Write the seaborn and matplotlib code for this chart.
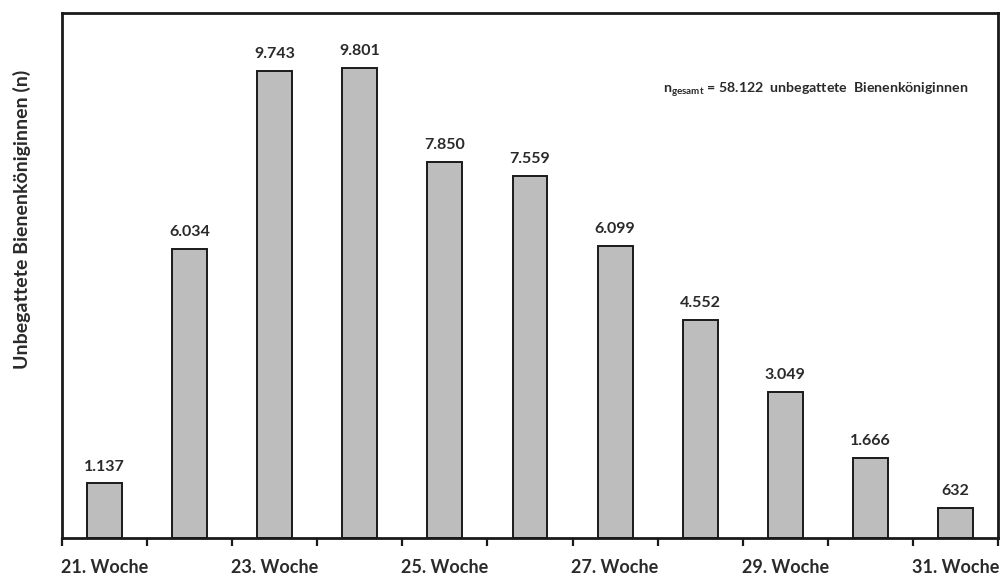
import matplotlib
matplotlib.use("Agg")
import matplotlib.pyplot as plt
import seaborn as sns
import pandas as pd
import numpy as np

weeks = [f"{w}. Woche" for w in range(21, 32)]
queens = [1137, 6034, 9743, 9801, 7850, 7559, 6099, 4552, 3049, 1666, 632]
total_label = "58.122"

sns.set_theme(style="white")
plt.rcParams["font.family"] = ["Lato", "DejaVu Sans"]

df = pd.DataFrame({"Woche": weeks, "Anzahl": queens})

fig = plt.figure(figsize=(10.04, 5.82), dpi=100)
ax = fig.add_axes([62 / 1004, 1 - 538 / 582, 936 / 1004, 525 / 582])

sns.barplot(data=df, x="Woche", y="Anzahl", color="#bdbdbd", saturation=1,
            edgecolor="#1a1a1a", linewidth=1.4, width=0.41, ax=ax)

ax.set_xlim(-0.5, len(weeks) - 0.5)
ax.set_ylim(0, 10950)

# value labels in German number format
for i, v in enumerate(queens):
    ax.annotate(f"{v:,}".replace(",", "."), (i, v), xytext=(0, 7),
                textcoords="offset points", ha="center", va="bottom",
                fontsize=11.5, fontweight="bold", color="#2a2a2a")

# only every second week is labelled; tick marks sit between categories
ax.set_xticks(range(0, len(weeks), 2))
ax.set_xticklabels(weeks[::2], fontsize=13, fontweight="bold", color="#2a2a2a")
ax.set_xticks(np.arange(-0.5, len(weeks), 1), minor=True)
ax.tick_params(axis="x", which="major", length=0, pad=15)
ax.tick_params(axis="x", which="minor", length=6, width=1.6, color="#1a1a1a",
               direction="out", bottom=True)
ax.set_yticks([])
ax.set_xlabel("")
ax.set_ylabel("Unbegattete Bienenköniginnen (n)", fontsize=14,
              fontweight="bold", color="#2a2a2a")
ax.yaxis.set_label_coords(-0.033, 0.606)

for s in ax.spines.values():
    s.set_visible(True)
    s.set_color("#1a1a1a")
    s.set_linewidth(2.0)

ax.text(0.968, 0.855,
        r"n$_{\mathregular{gesamt}}$ = " + total_label + "  unbegattete  Bienenköniginnen",
        transform=ax.transAxes, ha="right", va="center", fontsize=10.2,
        fontweight="bold", color="#2a2a2a")

fig.savefig("out.png", dpi=100)
